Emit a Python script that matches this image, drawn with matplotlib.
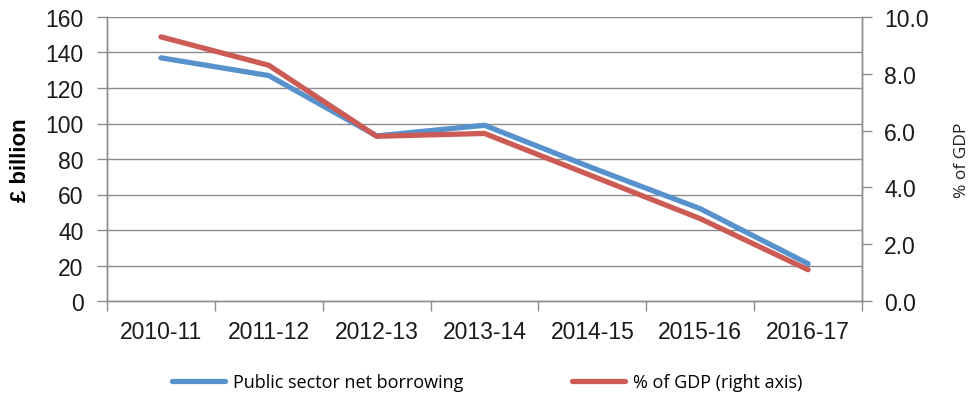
import matplotlib
matplotlib.use("Agg")
import matplotlib.pyplot as plt
import numpy as np

categories = ["2010-11", "2011-12", "2012-13", "2013-14", "2014-15", "2015-16", "2016-17"]
borrowing = [137, 127, 93, 99, 75, 52, 21]
pct_gdp = [9.3, 8.3, 5.8, 5.9, 4.4, 2.9, 1.1]
left_ticks = [0, 20, 40, 60, 80, 100, 120, 140, 160]
right_ticks = [0.0, 2.0, 4.0, 6.0, 8.0, 10.0]

blue = "#5892CC"
red = "#CC5B55"
grid_c = "#8C8C8C"

plt.rcParams["font.family"] = ["Liberation Sans", "DejaVu Sans"]

fig = plt.figure(figsize=(9.74, 4.02), dpi=100)
ax = fig.add_axes([107/974, 1-302/402, (862-107)/974, (302-18)/402])
ax2 = ax.twinx()

x = np.arange(len(categories))
ax.plot(x, borrowing, color=blue, lw=3.8, solid_capstyle="round", zorder=3,
        label="Public sector net borrowing")
ax2.plot(x, pct_gdp, color=red, lw=3.8, solid_capstyle="round", zorder=3,
         label="% of GDP (right axis)")

ax.set_xlim(-0.5, len(categories) - 0.5)
ax.set_ylim(0, 160)
ax2.set_ylim(0, 10)
ax.set_yticks(left_ticks)
ax.set_yticklabels([str(t) for t in left_ticks])
ax2.set_yticks(right_ticks)
ax2.set_yticklabels([f"{t:.1f}" for t in right_ticks])

for t in left_ticks[1:]:
    ax.axhline(t, color=grid_c, lw=1.0, zorder=1)

ax.set_xticks(x)
ax.set_xticklabels(categories)
ax.set_xticks(np.arange(-0.5, len(categories)), minor=True)
ax.tick_params(axis="x", which="major", length=0, pad=14, labelsize=16.5, colors="#1a1a1a")
ax.tick_params(axis="x", which="minor", length=7, width=1, color=grid_c, direction="out")
ax.tick_params(axis="y", length=7, width=1, color=grid_c, labelsize=16.5, labelcolor="#1a1a1a", pad=10)
ax2.tick_params(axis="y", length=7, width=1, color=grid_c, labelsize=16.5, labelcolor="#1a1a1a", pad=9)

for a in (ax, ax2):
    a.spines["top"].set_visible(False)
    for s in ("left", "right", "bottom"):
        a.spines[s].set_color(grid_c)
        a.spines[s].set_linewidth(1.0)

ax.set_ylabel("£ billion", fontsize=16, fontweight="bold", labelpad=10)
ax2.set_ylabel("% of GDP", fontsize=12.5, family=["Open Sans", "DejaVu Sans"],
               labelpad=18, color="#222222")

h1, l1 = ax.get_legend_handles_labels()
h2, l2 = ax2.get_legend_handles_labels()
fig.legend(h1 + h2, l1 + l2, loc="center", bbox_to_anchor=(487/974, 1-383/402),
           ncol=2, frameon=False, handlelength=2.95, columnspacing=6.0,
           handletextpad=0.45,
           prop={"family": ["Open Sans", "DejaVu Sans"], "size": 13})

fig.savefig("out.png", dpi=100)
